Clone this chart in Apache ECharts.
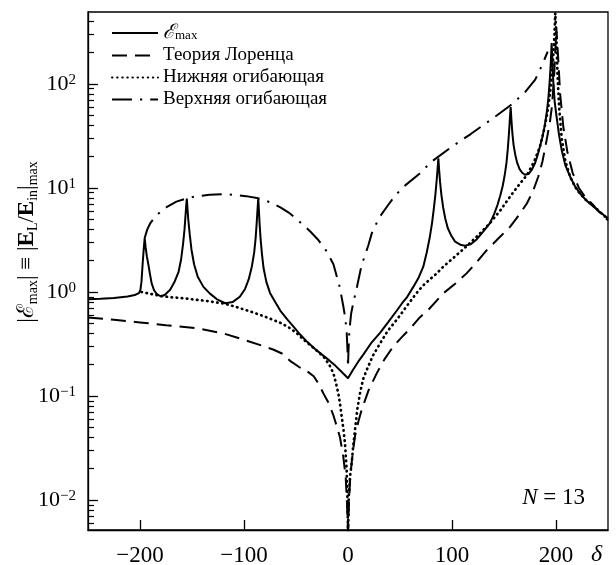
<!DOCTYPE html>
<html><head><meta charset="utf-8">
<script src="https://cdn.jsdelivr.net/npm/echarts@6/dist/echarts.min.js"></script>
<style>html,body{margin:0;padding:0;background:#fff}#c{width:616px;height:565px}</style>
</head><body><div id="c"></div>
<script>
// ---- data (δ, value) ----
const emax = [
[-250,0.85],[-238,0.86],[-225,0.875],[-212,0.905],[-205,0.935],[-201,0.975],[-199.6,1.05],[-198.6,1.25],[-197.4,1.9],[-196.4,2.6],[-195.5,3.3],[-194.6,2.7],[-193.4,2.2],[-192,1.85],[-190.5,1.5],[-188.8,1.21],[-186.5,1.04],[-184,0.96],[-180,0.905],[-176,0.94],[-171,1.05],[-166.5,1.27],[-163,1.55],[-160.5,2.05],[-158.5,2.95],[-157.2,4.0],[-156.2,5.5],[-155.5,6.9],[-155,7.9],[-154.4,6.5],[-153.6,5.0],[-152.2,3.6],[-150.5,2.55],[-148,1.85],[-144.5,1.4],[-139,1.12],[-133,0.97],[-126,0.85],[-118,0.78],[-111,0.8],[-104,0.9],[-99,1.07],[-95.5,1.32],[-92.5,1.75],[-90.2,2.4],[-88.8,3.3],[-87.8,4.6],[-87,6.2],[-86.3,7.9],[-85.7,6.2],[-85,4.5],[-84,3.2],[-82.7,2.3],[-81.2,1.7],[-78.5,1.25],[-75,0.98],[-70,0.8],[-65,0.66],[-58,0.54],[-52,0.46],[-46,0.39],[-39,0.33],[-32,0.285],[-25,0.25],[-18,0.22],[-12,0.195],[-6,0.17],[0,0.148],[5,0.18],[10,0.215],[14.7,0.25],[22,0.32],[30.8,0.405],[39,0.52],[46.8,0.66],[52,0.78],[57,0.9],[62.8,1.12],[68,1.38],[72.4,1.75],[75.7,2.4],[78.5,3.3],[80.8,4.6],[82.5,6.3],[84,8.6],[85.3,12],[86.2,15.5],[86.9,19.3],[87.6,15],[88.5,11.5],[89.8,8.6],[91.5,6.5],[93.5,5.1],[96,4.1],[99.5,3.45],[103,3.05],[108,2.85],[112.5,2.79],[118,2.88],[123.7,3.2],[130,3.8],[136.5,4.6],[140.5,5.6],[143.8,6.9],[146.5,8.5],[148.8,10.5],[150.8,13.5],[152.4,17.5],[153.7,24],[154.8,34],[155.7,47],[156.4,60],[157.1,46],[158,34],[159.2,26],[160.8,21],[162.6,17.5],[165,15.2],[167.5,14],[170,13.4],[173.5,13.6],[176.6,14.9],[180,17.5],[182.5,21],[184.6,25],[187,31],[189.2,40],[191,52],[192.6,72],[193.9,105],[195,160],[195.8,247],[196.6,160],[197.4,105],[198.7,68],[200.6,48],[203,32],[205.5,23],[209,16.5],[213.5,12.9],[218,10.5],[223,8.9],[228,7.8],[233,7.0],[241,6.0],[250,5.1]
];
const lorentz = [
[-250,0.57],[-225,0.54],[-200,0.51],[-175,0.48],[-146,0.45],[-120,0.4],[-101,0.35],[-85,0.31],[-72,0.28],[-63,0.255],[-55,0.215],[-47,0.19],[-40,0.175],[-33,0.155],[-28,0.13],[-23.7,0.106],[-19,0.087],[-14,0.065],[-10.5,0.05],[-7.7,0.04],[-4.5,0.026],[-2.2,0.0165],[-1,0.0095],[0,0.005],[1,0.0095],[2.2,0.017],[4.5,0.028],[6.7,0.041],[10,0.057],[13,0.073],[20,0.115],[27.6,0.165],[35,0.225],[43.6,0.3],[52,0.37],[61,0.46],[69,0.57],[77,0.67],[84,0.8],[91.6,0.97],[103,1.2],[114,1.51],[124,1.95],[133,2.5],[145,3.3],[156,4.25],[165,5.6],[172,7.1],[178,9.4],[183,12.9],[187,18],[191,29],[194,42],[196,60],[198,110],[199.3,200],[200.3,350],[201.2,250],[202.5,150],[204,80],[207,39],[211,22],[216,14],[222,10],[228,8.2],[235,7.0],[242,5.8],[250,4.9]
];
const lowerEnv = [
[-198.6,1.0],[-190,0.96],[-181,0.92],[-170,0.89],[-158,0.87],[-147,0.845],[-136,0.82],[-127,0.795],[-118,0.77],[-106,0.71],[-94,0.65],[-83,0.595],[-72,0.54],[-64,0.5],[-56,0.45],[-49,0.4],[-43,0.35],[-33,0.29],[-23.7,0.24],[-18,0.2],[-14,0.165],[-11.5,0.132],[-9.3,0.106],[-7.5,0.082],[-6,0.063],[-4.3,0.047],[-2.9,0.035],[-1.3,0.0195],[-0.5,0.01],[0,0.005],[0.8,0.011],[2,0.017],[3.5,0.0225],[5,0.033],[6.7,0.047],[9,0.075],[11.5,0.106],[14.5,0.145],[18,0.178],[24,0.245],[30.8,0.32],[38,0.42],[46.8,0.54],[56,0.72],[66,0.98],[72,1.15],[79,1.33],[85,1.5],[91.6,1.75],[103,2.2],[114,2.75],[125,3.5],[136.5,4.6],[146,6.0],[156,8.3],[164,10.6],[172,13.3],[179,18],[184.6,25],[189,38],[192.6,60],[195,95],[197,160],[198.5,290],[199.3,480],[200.5,250],[201.5,120],[203,60],[205.5,30],[209,18],[214,12.5],[220,9.6],[228,7.8],[235,6.9],[242,5.9],[250,5.0]
];
const upperEnv = [
[-195.5,3.3],[-193,4.0],[-190,4.6],[-186,5.2],[-182,5.7],[-174,6.6],[-165,7.4],[-155,7.95],[-145,8.35],[-133,8.6],[-121,8.7],[-110,8.6],[-98,8.35],[-86.3,7.95],[-75,7.3],[-65,6.5],[-57,5.8],[-50,5.1],[-43,4.4],[-36,3.8],[-29,3.2],[-21,2.5],[-14,1.85],[-8,1.12],[-4.5,0.73],[-2.6,0.56],[-1.3,0.42],[-0.5,0.28],[0,0.19],[0.5,0.28],[1.3,0.42],[3,0.62],[5.5,0.82],[8.3,1.08],[13,1.8],[19.5,2.8],[23,3.7],[30,5.2],[38.8,6.9],[46,8.6],[55,10.6],[69,13.8],[80,17.8],[86.9,20],[100,25],[118,33],[137,45],[156,62],[170,83],[180,110],[187,155],[192,205]
];
const seriesNames = ['ℰmax', 'Теория Лоренца', 'Нижняя огибающая', 'Верхняя огибающая'];
const xTicks = [-200, -100, 0, 100, 200];
const yMajor = [0.01, 0.1, 1, 10, 100];
const yMinor = [0.006,0.007,0.008,0.009,0.02,0.03,0.04,0.05,0.06,0.07,0.08,0.09,0.2,0.3,0.4,0.5,0.6,0.7,0.8,0.9,2,3,4,5,6,7,8,9,20,30,40,50,60,70,80,90,200,300,400];
const yMin = 0.00515, yMax = 492;

const FF = '"Liberation Serif", "Times New Roman", serif';
const chart = echarts.init(document.getElementById('c'), null, {renderer: 'canvas'});
function mkLine(name, data, type, width, cap) {
  return {
    name, type: 'line', data, symbol: 'none', showSymbol: false, clip: true,
    yAxisIndex: 0, animation: false, silent: true,
    lineStyle: {color: '#000', width, type, cap: cap || 'butt'},
    itemStyle: {color: '#000'}
  };
}
chart.setOption({
  animation: false,
  textStyle: {fontFamily: FF, color: '#000'},
  grid: {left: 88, right: 8, top: 12, bottom: 35, containLabel: false, outerBoundsMode: 'none',
         show: true, borderColor: '#000', borderWidth: 1.3, backgroundColor: 'transparent'},
  legend: {
    show: true, orient: 'vertical', left: 111, top: 23, padding: 0,
    itemWidth: 46, itemHeight: 19, itemGap: 3, selectedMode: false,
    data: seriesNames,
    itemStyle: {opacity: 0, borderWidth: 0},
    textStyle: {fontFamily: FF, fontSize: 19, color: '#000', lineHeight: 19,
      rich: {
        e: {fontFamily: FF, fontSize: 20, fontStyle: 'italic', lineHeight: 19, color: '#000'},
        s: {fontFamily: FF, fontSize: 13, lineHeight: 12, verticalAlign: 'bottom', color: '#000'}
      }},
    formatter: n => n === 'ℰmax' ? '{e|ℰ}{s|max}' : n
  },
  xAxis: {
    type: 'value', min: -250, max: 250,
    axisLine: {show: true, onZero: false, lineStyle: {color: '#000', width: 1.3}},
    axisTick: {show: true, inside: true, length: 10, customValues: xTicks, lineStyle: {color: '#000', width: 1.3}},
    axisLabel: {show: true, customValues: xTicks, margin: 14, fontFamily: FF, fontSize: 23, color: '#000',
      formatter: v => v < 0 ? '\u2212' + (-v) : String(v)},
    splitLine: {show: false},
    name: 'δ', nameLocation: 'end', nameGap: -17, nameMoveOverlap: false,
    nameTextStyle: {fontFamily: FF, fontSize: 24, fontStyle: 'italic', color: '#000', verticalAlign: 'top', padding: [13, 0, 0, 0]}
  },
  yAxis: [{
    type: 'log', logBase: 10, min: yMin, max: yMax,
    axisLine: {show: true, onZero: false, lineStyle: {color: '#000', width: 1.3}},
    axisTick: {show: true, inside: true, length: 10, customValues: yMajor, lineStyle: {color: '#000', width: 1.3}},
    minorTick: {show: false},
    axisLabel: {show: true, customValues: yMajor, margin: 12, color: '#000',
      formatter: v => { const e = Math.round(Math.log10(v)); return '{b|10}{s|' + (e < 0 ? '\u2212' + (-e) : e) + '}'; },
      rich: {
        b: {fontFamily: FF, fontSize: 22, lineHeight: 22, padding: [5, 0, 0, 0], verticalAlign: 'bottom', color: '#000'},
        s: {fontFamily: FF, fontSize: 15, lineHeight: 15, verticalAlign: 'top', color: '#000'}
      }},
    splitLine: {show: false},
    name: '{n||ℰ}{s|max}{n|| ≡ |}{b|E}{s|L}{n|/}{b|E}{s|in}{n||}{s|max}',
    nameLocation: 'middle', nameRotate: 90, nameGap: 48, nameMoveOverlap: false,
    nameTextStyle: {
      padding: [0, 0, 0, 58],
      rich: {
        n: {fontFamily: FF, fontSize: 23, lineHeight: 23, padding: [0, 0, 3, 0], color: '#000'},
        b: {fontFamily: FF, fontSize: 23, fontWeight: 'bold', lineHeight: 23, padding: [0, 0, 3, 0], color: '#000'},
        s: {fontFamily: FF, fontSize: 14, lineHeight: 14, verticalAlign: 'bottom', color: '#000'}
      }
    }
  }, {
    type: 'log', logBase: 10, min: yMin, max: yMax, position: 'left',
    axisLine: {show: false, onZero: false},
    axisTick: {show: true, inside: true, length: 6, customValues: yMinor, lineStyle: {color: '#000', width: 1.2}},
    axisLabel: {show: false}, splitLine: {show: false}, minorTick: {show: false}
  }],
  graphic: [{
    type: 'text', right: 31, top: 486, silent: true,
    style: {text: '{i|N} = 13', fontFamily: FF, fontSize: 23, fill: '#000',
      rich: {i: {fontFamily: FF, fontSize: 23, fontStyle: 'italic', fill: '#000'}}}
  }],
  series: [
    mkLine(seriesNames[0], emax, 'solid', 2),
    mkLine(seriesNames[1], lorentz, [15, 8], 2),
    mkLine(seriesNames[2], lowerEnv, [0.5, 4.6], 2.7, 'round'),
    mkLine(seriesNames[3], upperEnv, [20, 8, 2.2, 8], 2)
  ]
});
</script></body></html>
